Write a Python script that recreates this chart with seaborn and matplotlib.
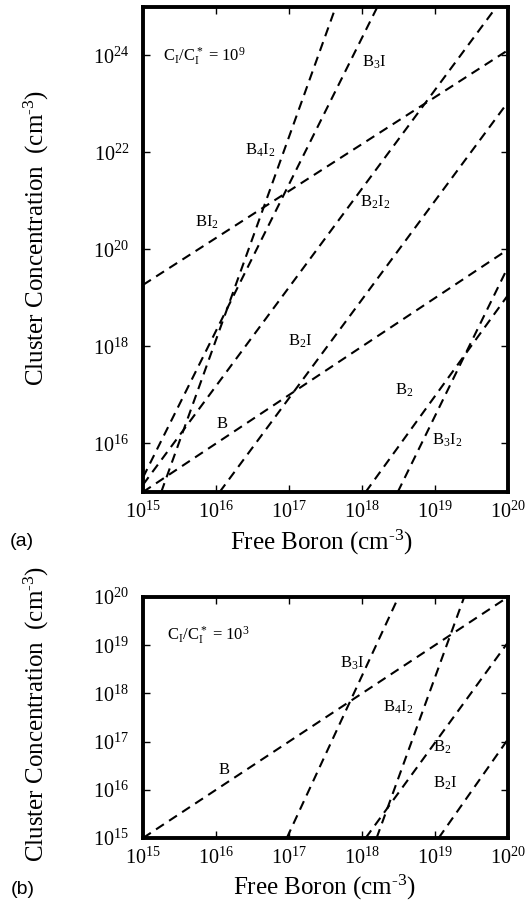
import numpy as np
import pandas as pd
import matplotlib
matplotlib.use("Agg")
import matplotlib.pyplot as plt
import seaborn as sns
from matplotlib.ticker import FixedLocator, FuncFormatter, NullLocator

# ---------------- data (log10 of concentrations) ----------------
# Panel (a): C_I/C_I* = 1e9
series_a = ["B", "B2", "B3I2", "B2I", "B2I2", "BI2", "B3I", "B4I2"]
x_start_a = [15.0, 18.05, 18.49, 16.05, 15.0, 15.0, 15.0, 15.25]
y_start_a = [15.0, 15.0, 15.0, 15.0, 15.15, 19.27, 15.3, 15.0]
x_end_a = [20.0, 20.0, 20.0, 20.0, 19.84, 20.0, 18.21, 17.64]
y_end_a = [20.0, 19.06, 19.64, 23.04, 25.0, 24.11, 25.0, 25.0]

# Panel (b): C_I/C_I* = 1e3
series_b = ["B", "B3I", "B4I2", "B2", "B2I"]
x_start_b = [15.0, 16.97, 18.2, 18.05, 19.05]
y_start_b = [15.0, 15.0, 15.0, 15.0, 15.0]
x_end_b = [20.0, 18.5, 19.4, 20.0, 20.0]
y_end_b = [20.0, 20.0, 20.0, 19.06, 17.05]

# labels (text, log10 x, log10 y)
labels_a = [r"B$_3$I", r"B$_4$I$_2$", r"BI$_2$", r"B$_2$I$_2$", r"B$_2$I", "B", r"B$_2$", r"B$_3$I$_2$"]
label_x_a = [18.0, 16.40, 15.71, 17.97, 16.99, 16.01, 18.45, 18.96]
label_y_a = [23.87, 22.05, 20.57, 20.98, 18.11, 16.40, 17.10, 16.07]

labels_b = [r"B$_3$I", r"B$_4$I$_2$", "B", r"B$_2$", r"B$_2$I"]
label_x_b = [17.70, 18.29, 16.03, 18.97, 18.97]
label_y_b = [18.63, 17.72, 16.41, 16.89, 16.14]

ratio_a = r"C$_I$/C$_I^*$ = 10$^9$"
ratio_b = r"C$_I$/C$_I^*$ = 10$^3$"

x_ticks = [15, 16, 17, 18, 19, 20]
y_ticks_a = [16, 18, 20, 22, 24]
y_ticks_b = [15, 16, 17, 18, 19, 20]


def build(names, xs, ys, xe, ye):
    rows = []
    for n, a, b, c, d in zip(names, xs, ys, xe, ye):
        rows.append({"series": n, "x": 10.0 ** a, "y": 10.0 ** b})
        rows.append({"series": n, "x": 10.0 ** c, "y": 10.0 ** d})
    return pd.DataFrame(rows)


df_a = build(series_a, x_start_a, y_start_a, x_end_a, y_end_a)
df_b = build(series_b, x_start_b, y_start_b, x_end_b, y_end_b)

# ---------------- style ----------------
plt.rcParams["font.family"] = ["Liberation Serif", "DejaVu Serif"]
plt.rcParams["mathtext.fontset"] = "custom"
plt.rcParams["mathtext.rm"] = "Liberation Serif"
plt.rcParams["mathtext.it"] = "Liberation Serif:italic"
plt.rcParams["mathtext.bf"] = "Liberation Serif:bold"
plt.rcParams["mathtext.default"] = "regular"

W, H = 530, 905
fig = plt.figure(figsize=(W / 100, H / 100), dpi=100)
ax_a = fig.add_axes([143 / W, 1 - 492 / H, 365 / W, 485 / H])
ax_b = fig.add_axes([143 / W, 1 - 838 / H, 365 / W, 241 / H])

fmt = FuncFormatter(lambda v, p: r"$10^{%d}$" % int(round(np.log10(v))))
unit = "(cm$^{\u2010" + "3}$)"

for ax, df, ylim, yt in [(ax_a, df_a, (1e15, 1e25), y_ticks_a),
                          (ax_b, df_b, (1e15, 1e20), y_ticks_b)]:
    ax.set_xscale("log")
    ax.set_yscale("log")
    sns.lineplot(data=df, x="x", y="y", units="series", estimator=None,
                 color="black", linewidth=1.5, linestyle=(0, (4.5, 3)),
                 legend=False, ax=ax, sort=False)
    ax.set_xlim(1e15, 1e20)
    ax.set_ylim(*ylim)
    ax.xaxis.set_major_locator(FixedLocator([10.0 ** k for k in x_ticks]))
    ax.yaxis.set_major_locator(FixedLocator([10.0 ** k for k in yt]))
    ax.xaxis.set_minor_locator(NullLocator())
    ax.yaxis.set_minor_locator(NullLocator())
    ax.xaxis.set_major_formatter(fmt)
    ax.yaxis.set_major_formatter(fmt)
    ax.tick_params(which="major", direction="in", length=5, width=1.0,
                   top=True, right=True, labelsize=14.5, colors="black")
    ax.tick_params(axis="x", pad=7)
    ax.tick_params(axis="y", pad=10)
    for s in ax.spines.values():
        s.set_linewidth(2.8)
        s.set_color("black")
    ax.set_facecolor("white")
    ax.set_xlabel("Free Boron " + unit, fontsize=18)
    ax.set_ylabel("Cluster Concentration  " + unit, fontsize=18)

ax_a.xaxis.set_label_coords(0.49, -0.105)
ax_a.yaxis.set_label_coords(-0.293, 0.524)
ax_b.xaxis.set_label_coords(0.496, -0.207)
ax_b.yaxis.set_label_coords(-0.293, 0.515)
for ax in (ax_a, ax_b):
    ax.xaxis.label.set_va("center")
    ax.yaxis.label.set_va("center")

for t, x, y in zip(labels_a, label_x_a, label_y_a):
    ax_a.text(10 ** x, 10 ** y, t, ha="left", va="center", fontsize=12)
for t, x, y in zip(labels_b, label_x_b, label_y_b):
    ax_b.text(10 ** x, 10 ** y, t, ha="left", va="center", fontsize=12)

ax_a.text(10 ** 15.27, 10 ** 23.97, ratio_a, ha="left", va="center", fontsize=12)
ax_b.text(10 ** 15.33, 10 ** 19.19, ratio_b, ha="left", va="center", fontsize=12)

fig.text(22 / W, 1 - 542 / H, "(a)", fontsize=14, family="Liberation Sans",
         ha="center", va="center")
fig.text(23 / W, 1 - 889 / H, "(b)", fontsize=14, family="Liberation Sans",
         ha="center", va="center")

fig.savefig("out.png", dpi=100, facecolor="white")
